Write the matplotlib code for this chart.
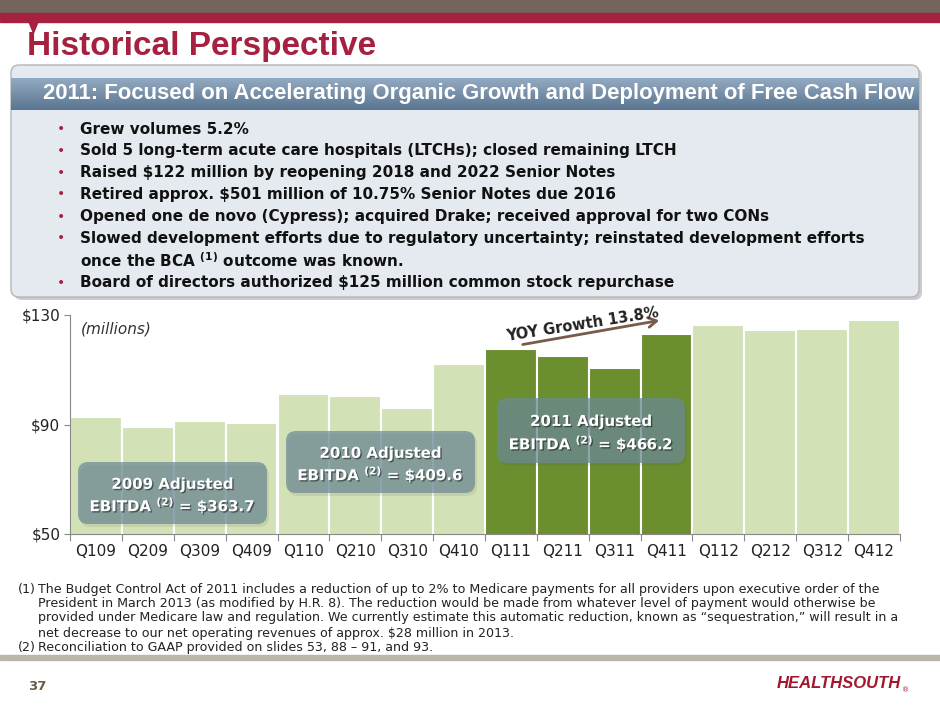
import numpy as np
import matplotlib
matplotlib.use("Agg")
import matplotlib.pyplot as plt
from matplotlib.patches import Rectangle, FancyBboxPatch, Polygon
import matplotlib.patheffects as pe

# Quarterly adjusted EBITDA ($ millions)
quarters = ["Q109", "Q209", "Q309", "Q409", "Q110", "Q210", "Q310", "Q410",
            "Q111", "Q211", "Q311", "Q411", "Q112", "Q212", "Q312", "Q412"]
ebitda = [92.6, 89.2, 91.4, 90.5, 101.1, 100.4, 96.0, 112.1,
          117.6, 115.1, 110.5, 123.0, 126.5, 124.6, 124.8, 128.1]
highlight_year = "11"
yticks = [50, 90, 130]
ytick_labels = ["$50", "$90", "$130"]

title = "Historical Perspective"
header = "2011: Focused on Accelerating Organic Growth and Deployment of Free Cash Flow"
bullets = [
    "Grew volumes 5.2%",
    "Sold 5 long-term acute care hospitals (LTCHs); closed remaining LTCH",
    "Raised $122 million by reopening 2018 and 2022 Senior Notes",
    "Retired approx. $501 million of 10.75% Senior Notes due 2016",
    "Opened one de novo (Cypress); acquired Drake; received approval for two CONs",
    "Slowed development efforts due to regulatory uncertainty; reinstated development efforts",
    None,
    "Board of directors authorized $125 million common stock repurchase",
]
continuation = r"once the BCA $^{\mathbf{(1)}}$ outcome was known."
year_labels = ["2009", "2010", "2011"]
year_totals = ["363.7", "409.6", "466.2"]
footnotes = [
    ("(1)", "The Budget Control Act of 2011 includes a reduction of up to 2% to Medicare payments for all providers upon executive order of the"),
    ("", "President in March 2013 (as modified by H.R. 8). The reduction would be made from whatever level of payment would otherwise be"),
    ("", "provided under Medicare law and regulation. We currently estimate this automatic reduction, known as \u201csequestration,\u201d will result in a"),
    ("", "net decrease to our net operating revenues of approx. $28 million in 2013."),
    ("(2)", "Reconciliation to GAAP provided on slides 53, 88 \u2013 91, and 93."),
]

RED = "#A6213F"
LIGHT_GREEN = "#D3E2B6"
DARK_GREEN = "#6B8E2F"
NARROW = ["Liberation Sans Narrow", "Liberation Sans", "DejaVu Sans"]

fig = plt.figure(figsize=(9.4, 7.05), dpi=100)
fig.patch.set_facecolor("white")

# chart axes, placed in slide pixels
W, H = 940, 705
ax = fig.add_axes([70 / W, (H - 534) / H, 830 / W, 219 / H], zorder=1)
x = np.arange(len(quarters))
colors = [DARK_GREEN if q.endswith(highlight_year) else LIGHT_GREEN for q in quarters]
ax.bar(x, ebitda, width=1.0, color=colors, edgecolor="white", linewidth=1.5)
ax.set_ylim(50, 130)
ax.set_xlim(-0.5, len(quarters) - 0.5)
ax.set_yticks(yticks)
ax.set_yticklabels(ytick_labels, fontsize=11, color="#222222")
ax.set_xticks(np.arange(len(quarters) + 1) - 0.5)
ax.set_xticklabels([])
ax.set_xticks(x, minor=True)
ax.set_xticklabels(quarters, minor=True, fontsize=11, color="#222222")
ax.tick_params(axis="x", which="minor", length=0, pad=7)
ax.tick_params(axis="x", which="major", length=5, color="#888888", direction="out")
ax.tick_params(axis="y", length=4, color="#888888", pad=3)
for s in ["top", "right"]:
    ax.spines[s].set_visible(False)
for s in ["left", "bottom"]:
    ax.spines[s].set_color("#888888")
ax.text(0.013, 0.97, "(millions)", transform=ax.transAxes, fontsize=11,
        style="italic", va="top", color="#333333")

# overlay in slide pixels
ov = fig.add_axes([0, 0, 1, 1], zorder=5)
ov.set_xlim(0, W)
ov.set_ylim(H, 0)
ov.axis("off")
ov.patch.set_visible(False)

ov.add_patch(Rectangle((0, 0), W, 13, color="#74645C"))
ov.add_patch(Rectangle((0, 13), W, 9, color=RED))
ov.add_patch(Polygon([(29, 22), (38, 22), (33.5, 33)], color=RED))
ov.text(27, 47, title, color=RED, fontsize=24, fontweight="bold", va="center",
        family=NARROW)

# bullet box
ov.add_patch(FancyBboxPatch((14, 68), 908, 232, boxstyle="round,pad=0,rounding_size=8",
                            fc="#9A9A9A", ec="none", alpha=0.5))
ov.add_patch(FancyBboxPatch((11, 65), 908, 232, boxstyle="round,pad=0,rounding_size=8",
                            fc="#E5EAF0", ec="#B5B5B5", lw=1))
grad = np.linspace(0, 1, 64).reshape(-1, 1)
cmap = matplotlib.colors.LinearSegmentedColormap.from_list("hdr", ["#93AAC1", "#5A7590"])
ov.imshow(grad, extent=(11, 919, 110, 78), cmap=cmap, aspect="auto", zorder=2)
ov.text(479, 94, header, color="white", fontsize=15.9, fontweight="bold",
        ha="center", va="center", zorder=3, family=NARROW)

by = [129, 151, 173, 194, 217, 238, 261, 283]
for yy, b in zip(by, bullets):
    if b is None:
        ov.text(80, yy, continuation, fontsize=11, fontweight="bold", va="center",
                color="#111111")
        continue
    ov.text(57, yy, "\u2022", fontsize=10, color=RED, va="center")
    ov.text(80, yy, b, fontsize=11, fontweight="bold", va="center", color="#111111")

# year annotation boxes
boxes = [(78, 462, 189, 62), (286, 431, 189, 62), (497, 398, 188, 65)]
shadow = [pe.SimplePatchShadow(offset=(1, -1), shadow_rgbFace="black", alpha=0.45), pe.Normal()]
for (bx, byy, bw, bh), yr, tot in zip(boxes, year_labels, year_totals):
    ov.add_patch(FancyBboxPatch((bx + 2, byy + 3), bw, bh, boxstyle="round,pad=0,rounding_size=10",
                                fc="#555555", ec="none", alpha=0.12))
    ov.add_patch(FancyBboxPatch((bx, byy), bw, bh, boxstyle="round,pad=0,rounding_size=10",
                                fc="#6C8A96", ec="none", alpha=0.72))
    cx = bx + bw / 2
    ov.text(cx, byy + bh * 0.36, f"{yr} Adjusted", color="white", fontsize=10.8,
            fontweight="bold", ha="center", va="center", path_effects=shadow)
    ov.text(cx, byy + bh * 0.70, r"EBITDA $^{\mathbf{(2)}}$ = \$" + tot, color="white",
            fontsize=10.8, fontweight="bold", ha="center", va="center", path_effects=shadow)

# YOY growth arrow
ov.annotate("", xy=(662, 320), xytext=(520, 345),
            arrowprops=dict(arrowstyle="->,head_length=0.6,head_width=0.35",
                            color="#7A5A4A", lw=2))
ov.text(583, 324, "YOY Growth 13.8%", rotation=9, fontsize=10.5, fontweight="bold",
        ha="center", va="center", color="#222222")

# footnotes
fy = [589, 604, 618, 633, 647]
for yy, (mark, txt) in zip(fy, footnotes):
    if mark:
        ov.text(18, yy, mark, fontsize=9.1, va="center", color="#222222")
    ov.text(38, yy, txt, fontsize=9.1, va="center", color="#222222")

ov.add_patch(Rectangle((0, 655), W, 5, color="#BDB5AB"))
ov.text(28, 686, "37", color="#6E5A48", fontsize=9.5, fontweight="bold", va="center")
ov.text(901, 684, "HEALTHSOUTH", color="#A0182E", fontsize=12, fontweight="bold",
        style="italic", ha="right", va="center", family=NARROW)
ov.text(902, 690, "\u00ae", color="#A0182E", fontsize=5, va="center")

fig.savefig("out.png", dpi=100)
